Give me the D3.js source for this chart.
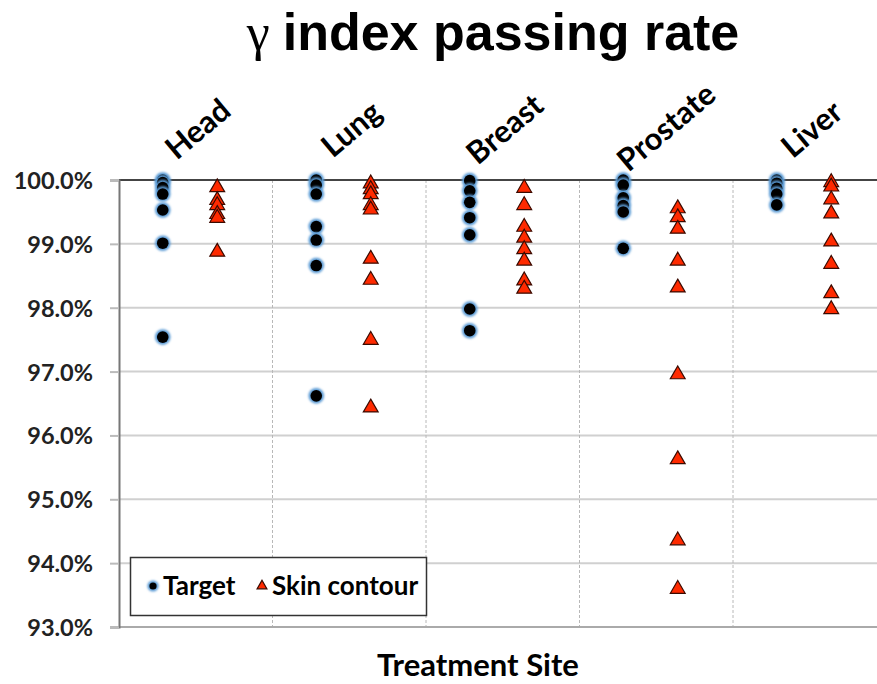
<!DOCTYPE html>
<html>
<head>
<meta charset="utf-8">
<script src="https://cdn.jsdelivr.net/npm/d3@7"></script>
<style>
  body { margin: 0; background: #fff; }
  svg { display: block; }
</style>
</head>
<body>
<svg id="chart" width="877" height="684"></svg>
<script>
// --- data (passing rate, %) ---
const sites = ["Head", "Lung", "Breast", "Prostate", "Liver"];
const yTicks = [93, 94, 95, 96, 97, 98, 99, 100];

const targetHead = [100.0, 99.96, 99.88, 99.78, 99.53, 99.01, 97.54];
const targetLung = [100.0, 99.92, 99.78, 99.27, 99.06, 98.66, 96.62];
const targetBreast = [99.99, 99.83, 99.65, 99.41, 99.14, 97.98, 97.64];
const targetProstate = [100.0, 99.92, 99.72, 99.6, 99.5, 98.93];
const targetLiver = [100.0, 99.95, 99.87, 99.78, 99.61];

const skinHead = [99.90, 99.70, 99.62, 99.48, 99.42, 98.89];
const skinLung = [99.96, 99.87, 99.79, 99.62, 99.55, 98.78, 98.45, 97.51, 96.45];
const skinBreast = [99.89, 99.62, 99.28, 99.11, 98.93, 98.75, 98.44, 98.31];
const skinProstate = [99.57, 99.43, 99.25, 98.75, 98.33, 96.97, 95.64, 94.37, 93.61];
const skinLiver = [99.98, 99.91, 99.71, 99.49, 99.05, 98.70, 98.24, 97.99];

const targetSeries = [targetHead, targetLung, targetBreast, targetProstate, targetLiver];
const skinSeries = [skinHead, skinLung, skinBreast, skinProstate, skinLiver];

// --- layout ---
const svg = d3.select("#chart");
const plotLeft = 119, plotRight = 886.5, plotTop = 180, plotBottom = 627;

const x = d3.scaleLinear().domain([0, sites.length]).range([plotLeft, plotRight]);
const y = d3.scaleLinear().domain([93, 100]).range([plotBottom, plotTop]);

const labelFont = "Lato, 'Open Sans', sans-serif";

const defs = svg.append("defs");
defs.append("filter").attr("id", "glow")
  .attr("x", "-50%").attr("y", "-50%").attr("width", "200%").attr("height", "200%")
  .append("feGaussianBlur").attr("stdDeviation", 1.3);

// title
const title = svg.append("text")
  .attr("x", 493).attr("y", 50)
  .attr("text-anchor", "middle")
  .style("font-family", "'Liberation Sans', Arial, sans-serif")
  .style("font-weight", "bold")
  .style("font-size", "52px")
  .attr("fill", "#000");
title.append("tspan")
  .style("font-family", "'Liberation Serif', 'Times New Roman', serif")
  .style("font-weight", "normal")
  .text("γ ");
title.append("tspan").text("index passing rate");

// horizontal gridlines
svg.append("g")
  .selectAll("line")
  .data(yTicks.filter(d => d > 93 && d < 100))
  .enter().append("line")
  .attr("x1", plotLeft).attr("x2", 877)
  .attr("y1", d => y(d)).attr("y2", d => y(d))
  .attr("stroke", "#d0d0d0")
  .attr("stroke-width", 2);

// vertical dotted separators between sites
svg.append("g")
  .selectAll("line")
  .data(d3.range(1, sites.length))
  .enter().append("line")
  .attr("x1", d => x(d)).attr("x2", d => x(d))
  .attr("y1", plotTop).attr("y2", plotBottom)
  .attr("stroke", "#b8b8b8")
  .attr("stroke-width", 1)
  .attr("stroke-dasharray", "3,2");

// top border and bottom line
svg.append("line")
  .attr("x1", plotLeft).attr("x2", 877)
  .attr("y1", plotTop).attr("y2", plotTop)
  .attr("stroke", "#444").attr("stroke-width", 2);
svg.append("line")
  .attr("x1", plotLeft).attr("x2", 877)
  .attr("y1", plotBottom).attr("y2", plotBottom)
  .attr("stroke", "#aaa").attr("stroke-width", 2);

// y axis
const yAxis = svg.append("g")
  .attr("transform", `translate(${plotLeft},0)`)
  .call(d3.axisLeft(y)
    .tickValues(yTicks)
    .tickSize(9)
    .tickPadding(17)
    .tickFormat(d => d.toFixed(1) + "%"));
yAxis.select(".domain").attr("stroke", "#777").attr("stroke-width", 2);
yAxis.selectAll(".tick line").attr("stroke", "#bbb").attr("stroke-width", 2);
yAxis.selectAll(".tick text")
  .style("font-family", labelFont)
  .style("font-weight", "bold")
  .style("font-size", "23.5px")
  .attr("fill", "#222")
  .attr("dy", "0.36em");

// site labels, rotated
svg.append("g")
  .selectAll("text")
  .data(sites)
  .enter().append("text")
  .attr("transform", (d, i) => `translate(${x(i + 0.5) + (d === "Prostate" ? 10 : 2)},${d === "Prostate" ? 127 : 129}) rotate(-40)`)
  .attr("text-anchor", "middle")
  .attr("dy", "0.35em")
  .style("font-family", labelFont)
  .style("font-weight", "bold")
  .style("font-size", "31px")
  .attr("fill", "#000")
  .text(d => d);

// markers
const tri = d3.symbol().type(d3.symbolTriangle);

function drawTarget(g, cx, cy, r) {
  g.append("circle").attr("cx", cx).attr("cy", cy).attr("r", r + 2)
    .attr("fill", "#5b9bd5").attr("filter", "url(#glow)");
  g.append("circle").attr("cx", cx).attr("cy", cy).attr("r", r)
    .attr("fill", "#000");
}

function drawSkin(g, cx, cy, size) {
  g.append("path")
    .attr("d", tri.size(size)())
    .attr("transform", `translate(${cx},${cy + 1})`)
    .attr("fill", "#ff2a00")
    .attr("stroke", "#3a0a00")
    .attr("stroke-width", 1.2);
}

const pts = svg.append("g");
targetSeries.forEach((vals, i) => {
  vals.forEach(v => drawTarget(pts, x(i + 0.285), y(v), 5.8));
});
skinSeries.forEach((vals, i) => {
  vals.forEach(v => drawSkin(pts, x(i + 0.64), y(v), 95));
});

// legend
const legend = svg.append("g");
legend.append("rect")
  .attr("x", 130.5).attr("y", 557.5)
  .attr("width", 296).attr("height", 58)
  .attr("fill", "#fff").attr("stroke", "#333").attr("stroke-width", 1.5);
drawTarget(legend, 153, 586, 3.6);
legend.append("text").attr("x", 163).attr("y", 595)
  .style("font-family", labelFont).style("font-weight", "bold").style("font-size", "26px")
  .text("Target");
drawSkin(legend, 262, 585, 42);
legend.append("text").attr("x", 272).attr("y", 595)
  .style("font-family", labelFont).style("font-weight", "bold").style("font-size", "26px")
  .text("Skin contour");

// x axis title
svg.append("text")
  .attr("x", 478).attr("y", 676)
  .attr("text-anchor", "middle")
  .style("font-family", labelFont)
  .style("font-weight", "bold")
  .style("font-size", "31px")
  .text("Treatment Site");
</script>
</body>
</html>
